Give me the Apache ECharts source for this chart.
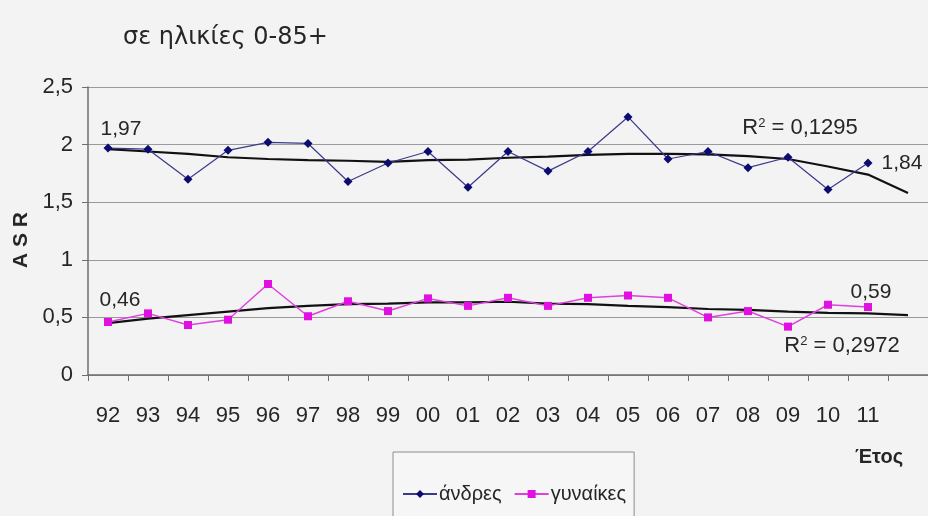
<!DOCTYPE html>
<html>
<head>
<meta charset="utf-8">
<script src="https://cdn.jsdelivr.net/npm/echarts@6/dist/echarts.min.js"></script>
<style>
  html, body { margin: 0; padding: 0; background: #f3f3f3; }
  #chart { width: 928px; height: 516px; }
</style>
</head>
<body>
<div id="chart"></div>
<script>
// Years (two-digit), plus one empty slot where the trend lines are projected forward
const years = ['92','93','94','95','96','97','98','99','00','01','02','03','04','05','06','07','08','09','10','11',''];

// Age-standardised rate, ages 0-85+
const men   = [1.97, 1.96, 1.70, 1.95, 2.02, 2.01, 1.68, 1.84, 1.94, 1.63, 1.94, 1.77, 1.94, 2.24, 1.875, 1.94, 1.80, 1.89, 1.61, 1.84];
const women = [0.46, 0.535, 0.434, 0.48, 0.79, 0.51, 0.64, 0.555, 0.665, 0.60, 0.67, 0.60, 0.67, 0.69, 0.67, 0.50, 0.555, 0.42, 0.61, 0.59];

// Polynomial trend lines (including the one-period forward projection)
const menTrend   = [1.96, 1.94, 1.92, 1.89, 1.875, 1.866, 1.86, 1.85, 1.866, 1.87, 1.886, 1.895, 1.91, 1.92, 1.92, 1.915, 1.90, 1.875, 1.81, 1.74, 1.58];
const womenTrend = [0.45, 0.49, 0.52, 0.55, 0.58, 0.60, 0.615, 0.62, 0.63, 0.63, 0.636, 0.62, 0.615, 0.60, 0.59, 0.573, 0.565, 0.55, 0.54, 0.535, 0.52];

const yTicks = [0, 0.5, 1, 1.5, 2, 2.5];

const FONT = "'Liberation Sans Narrow', 'Arial Narrow', 'Liberation Sans', Arial, sans-serif";
const TXT = '#262626';
const comma = v => String(v).replace('.', ',');

function valueLabels(values, marks) {
  return values.map((v, i) => {
    const m = marks[i];
    if (!m) return v;
    return {
      value: v,
      label: { show: true, position: 'inside', offset: m, formatter: p => comma(p.value),
               fontFamily: FONT, fontSize: 21, color: TXT }
    };
  });
}

function trendData(values, idx, text, offset) {
  return values.map((v, i) => {
    if (i !== idx) return v;
    return {
      value: v,
      label: {
        show: true, position: 'inside', offset: offset,
        formatter: '{r|R}{s|2}{r| = ' + text + '}',
        rich: {
          r: { fontFamily: FONT, fontSize: 22, color: TXT, verticalAlign: 'middle' },
          s: { fontFamily: FONT, fontSize: 13, color: TXT, verticalAlign: 'top' }
        }
      }
    };
  });
}

const chart = echarts.init(document.getElementById('chart'), null, { renderer: 'canvas' });

chart.setOption({
  backgroundColor: '#f3f3f3',
  animation: false,
  title: {
    text: 'σε ηλικίες 0-85+',
    left: 118, top: 21,
    textStyle: { fontFamily: "'DejaVu Sans', Verdana, sans-serif", fontSize: 24, fontWeight: 'normal', color: TXT }
  },
  grid: { left: 88, top: 87, bottom: 141, right: -4, containLabel: false },
  legend: {
    left: 393, top: 452,
    padding: [32, 8, 40, 9],
    itemGap: 12,
    itemWidth: 34, itemHeight: 10,
    borderColor: '#8c8c8c', borderWidth: 1,
    backgroundColor: '#f6f6f6',
    data: ['άνδρες', 'γυναίκες'],
    textStyle: { fontFamily: FONT, fontSize: 20, color: TXT, padding: [0, 0, 0, -3] }
  },
  xAxis: {
    type: 'category',
    data: years,
    boundaryGap: true,
    axisLine: { lineStyle: { color: '#6e6e6e', width: 1.5 } },
    axisTick: { show: true, length: 6, alignWithLabel: false, lineStyle: { color: '#6e6e6e' } },
    axisLabel: { margin: 30, fontFamily: FONT, fontSize: 22, color: TXT, interval: 0 },
    splitLine: { show: false }
  },
  yAxis: {
    type: 'value',
    min: 0, max: 2.5, interval: 0.5,
    name: 'A S R',
    nameLocation: 'middle',
    nameRotate: 90,
    nameGap: 52,
    nameTextStyle: { fontFamily: FONT, fontSize: 21, fontWeight: 'bold', color: TXT, padding: [0, 18, 0, 0] },
    axisLine: { show: true, lineStyle: { color: '#6e6e6e', width: 1.5 } },
    axisTick: { show: true, length: 6, lineStyle: { color: '#6e6e6e' } },
    axisLabel: { margin: 15, fontFamily: FONT, fontSize: 22, color: TXT,
                 formatter: v => yTicks.includes(v) ? comma(v) : '' },
    splitLine: { show: true, lineStyle: { color: '#9a9a9a', width: 1 } }
  },
  graphic: [
    {
      type: 'text', left: 855, top: 447,
      style: { text: 'Έτος', fontFamily: FONT, fontSize: 20, fontWeight: 'bold', fill: TXT }
    }
  ],
  series: [
    {
      name: 'άνδρες',
      type: 'line',
      data: valueLabels(men, { 0: [13, -19], 19: [34, 0] }),
      symbol: 'diamond', symbolSize: 9,
      itemStyle: { color: '#0b0b72' },
      lineStyle: { color: '#3a3a8c', width: 1.2 },
      z: 3
    },
    {
      name: 'γυναίκες',
      type: 'line',
      data: valueLabels(women, { 0: [12, -22], 19: [3, -15] }),
      symbol: 'rect', symbolSize: 8,
      itemStyle: { color: '#e010e0' },
      lineStyle: { color: '#e040e0', width: 1.5 },
      z: 3
    },
    {
      name: 'men trend',
      type: 'line',
      data: trendData(menTrend, 16, '0,1295', [52, -28]),
      showSymbol: true, symbol: 'circle', symbolSize: 0,
      lineStyle: { color: '#111', width: 2.2 },
      itemStyle: { color: '#111' },
      silent: true, z: 2
    },
    {
      name: 'women trend',
      type: 'line',
      data: trendData(womenTrend, 17, '0,2972', [54, 34]),
      showSymbol: true, symbol: 'circle', symbolSize: 0,
      lineStyle: { color: '#111', width: 2.2 },
      itemStyle: { color: '#111' },
      silent: true, z: 2
    }
  ]
});
</script>
</body>
</html>
